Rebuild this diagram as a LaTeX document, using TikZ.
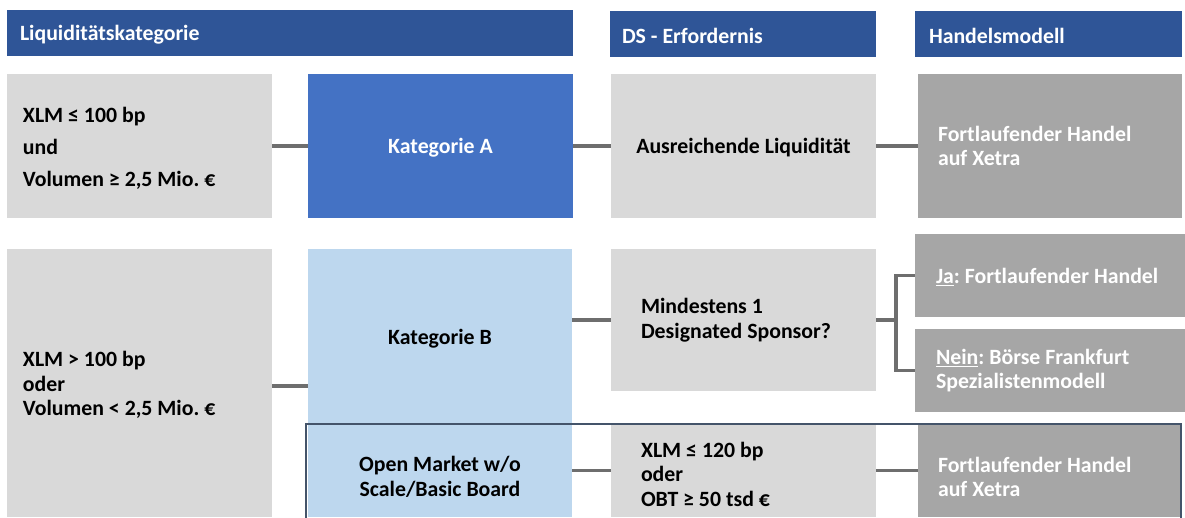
\documentclass[tikz,border=0pt]{standalone}
\usepackage{fontspec}
\setmainfont{Carlito}
\definecolor{hdr}{HTML}{2F5597}
\definecolor{blueA}{HTML}{4472C4}
\definecolor{blueB}{HTML}{BDD7EE}
\definecolor{lgray}{HTML}{D9D9D9}
\definecolor{dgray}{HTML}{A6A6A6}
\definecolor{conn}{HTML}{6E6E6E}
\definecolor{frame}{HTML}{44546A}
\begin{document}
\frenchspacing
\begin{tikzpicture}[x=1pt,y=-1pt,
  every node/.style={font=\bfseries\fontsize{21.8}{24.5}\selectfont},
  box/.style={draw=none, rectangle, anchor=north west, inner sep=0pt, outer sep=0pt},
  one/.style={text depth=0pt},
  hbox/.style={box, fill=hdr, text=white, minimum height=46pt},
  lbox/.style={box, fill=lgray, text=black},
  dbox/.style={box, fill=dgray, text=white},
  txt/.style={inner sep=0pt, outer sep=0pt},
  link/.style={draw=conn, line width=3.5pt}]
\useasboundingbox (0,0) rectangle (1185,517);
% headers
\node[hbox, minimum width=566pt] (hL) at (7,10) {};
\node[txt, anchor=west, text=white] (hLt) at (20,35) {Liquiditätskategorie};
\node[hbox, minimum width=266pt] (hD) at (610,11) {};
\node[txt, anchor=west, text=white] (hDt) at (622,36) {DS - Erfordernis};
\node[hbox, minimum width=267pt] (hH) at (915,11) {};
\node[txt, anchor=west, text=white] (hHt) at (929,36) {Handelsmodell};
% row 1
\node[lbox, minimum width=265pt, minimum height=144pt] (c1) at (7,74) {};
\node[txt, anchor=west, align=left] (c1t) at (23,148) {XLM ≤ 100 bp\\[7.5pt] und\\[7.5pt] Volumen ≥ 2,5 Mio. €};
\node[box, one, fill=blueA, text=white, minimum width=265pt, minimum height=144pt] (kA) at (308,74) {Kategorie A};
\node[lbox, one, minimum width=265pt, minimum height=144pt] (aL) at (611,74) {Ausreichende Liquidität};
\node[dbox, minimum width=264pt, minimum height=144pt, text width=224pt, inner xsep=20pt, align=flush left] (f1) at (918,74) {Fortlaufender Handel\\ auf Xetra};
% row 2
\node[lbox, minimum width=265pt, minimum height=268pt] (c2) at (7,249) {};
\node[txt, anchor=west, align=left] (c2t) at (23,385) {XLM > 100 bp\\ oder\\ Volumen < 2,5 Mio. €};
\node[box, one, fill=blueB, text=black, minimum width=264pt, minimum height=175pt] (kB) at (308,249) {Kategorie B};
\node[lbox, minimum width=265pt, minimum height=142pt, text width=205pt, inner xsep=30pt, align=flush left] (mD) at (611,249) {Mindestens 1\\ Designated Sponsor?};
\node[dbox, one, minimum width=267pt, minimum height=83pt, text width=246pt, inner xsep=21pt, align=flush left] (ja) at (915,234) {\underline{Ja}: Fortlaufender Handel};
\node[dbox, minimum width=267pt, minimum height=83pt, text width=246pt, inner xsep=21pt, align=flush left] (nein) at (915,329) {\underline{Nein}: Börse Frankfurt\\ Spezialistenmodell};
% row 3
\node[box, fill=blueB, minimum width=264pt, minimum height=93pt] (oM) at (308,424) {};
\node[txt, align=center] (oMt) at (440,477) {Open Market w/o\\ Scale/Basic Board};
\node[lbox, minimum width=265pt, minimum height=93pt] (xl) at (611,424) {};
\node[txt, anchor=west, align=left] (xlt) at (641,474) {XLM ≤ 120 bp\\ oder\\ OBT ≥ 50 tsd €};
\node[dbox, minimum width=264pt, minimum height=93pt] (f2) at (918,424) {};
\node[txt, anchor=west, align=left, text=white] (f2t) at (938,477) {Fortlaufender Handel\\ auf Xetra};
% frame around bottom row
\draw[frame, line width=2pt] (306,518) -- (306,424) -- (1181,424) -- (1181,518);
% connectors
\draw[link] (c1.east) -- (kA.west);
\draw[link] (kA.east) -- (aL.west);
\draw[link] (aL.east) -- (f1.west);
\coordinate (c2p) at (272,386);
\draw[link] (c2p) -- (c2p -| kB.west);
\draw[link] (mD.west -| kB.east) -- (mD.west);
\coordinate (br) at (896,320);
\draw[link] (mD.east) -- (br);
\draw[link] (ja.west) -| (br) |- (nein.west);
\draw[link] (oM.east) -- (xl.west);
\draw[link] (xl.east) -- (f2.west);
\end{tikzpicture}
\end{document}
